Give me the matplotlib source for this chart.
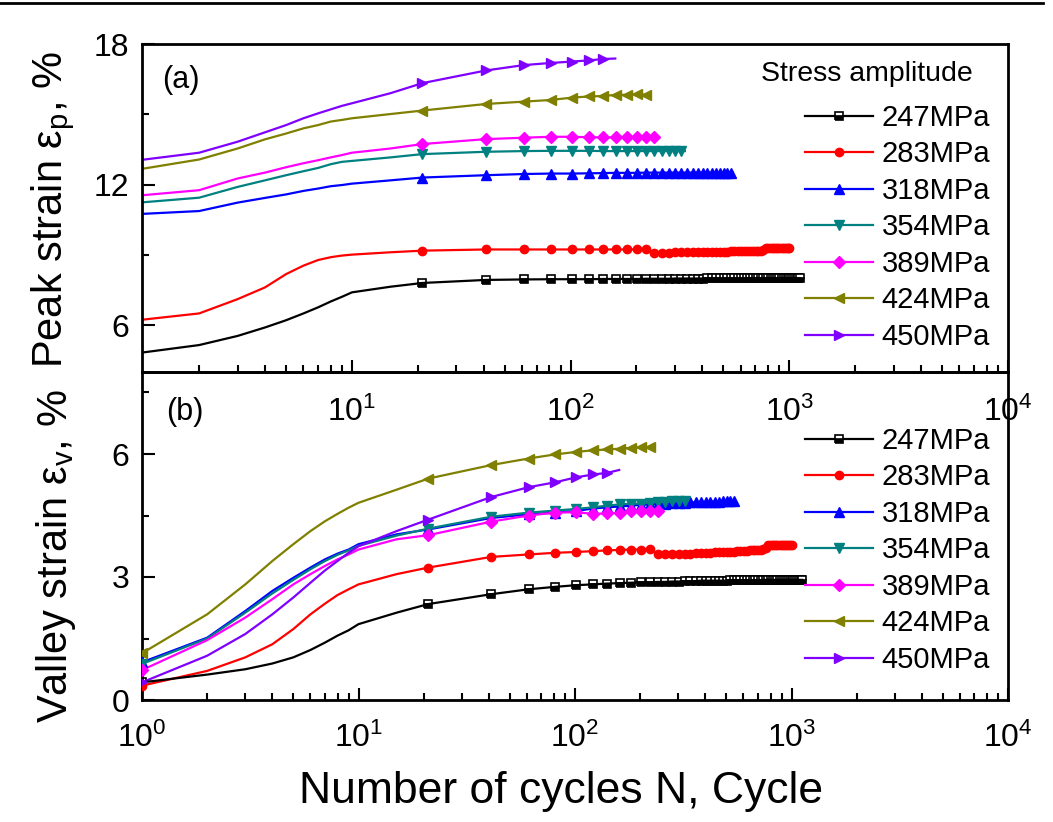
import matplotlib
matplotlib.use('Agg')
import matplotlib.pyplot as plt
from matplotlib.lines import Line2D
from matplotlib.ticker import FixedLocator, NullFormatter

plt.rcParams['font.family'] = ['Liberation Sans', 'DejaVu Sans']
plt.rcParams['mathtext.fontset'] = 'custom'
plt.rcParams['mathtext.rm'] = 'Liberation Sans'
plt.rcParams['mathtext.it'] = 'Liberation Sans:italic'
plt.rcParams['mathtext.bf'] = 'Liberation Sans:bold'

# ---------------- data ----------------
labels = ['247MPa', '283MPa', '318MPa', '354MPa', '389MPa', '424MPa', '450MPa']
colors = ['#000000', '#FF0000', '#0000FF', '#008080', '#FF00FF', '#808000', '#8000FF']
markers = ['s', 'o', '^', 'v', 'D', '<', '>']

# sampled cycle numbers: early cycles, then every 20th cycle (marker points), then last cycle
head_N = [1, 2, 3, 4, 5, 6, 7, 8, 9, 10, 15]
last_marker_N = [1121, 1001, 541, 321, 241, 221, 141]
end_N = [None, None, 552, 333, 250, 230, 160]

# Peak strain (%) (panel a)
peak_247 = [4.78, 5.15, 5.54, 5.90, 6.21, 6.50, 6.76, 7.01, 7.21, 7.40, 7.64,
            7.80, 7.93, 7.95, 7.96, 7.96, 7.96, 7.97, 7.97, 7.97, 7.97,
            7.98, 7.98, 7.98, 7.98, 7.99, 7.99, 7.99, 7.99, 7.99, 7.99,
            8.00, 8.00, 8.00, 8.00, 8.00, 8.00, 8.00, 8.00, 8.00, 8.00,
            8.00, 8.00, 8.00, 8.00, 8.00, 8.00, 8.00, 8.00, 8.00, 8.00,
            8.00, 8.00, 8.00, 8.00, 8.00, 8.00, 8.00, 8.00, 8.00, 8.00,
            8.00, 8.00, 8.00, 8.00, 8.00, 8.00]
peak_283 = [6.19, 6.50, 7.11, 7.61, 8.18, 8.54, 8.78, 8.90, 8.97, 9.01, 9.11,
            9.18, 9.23, 9.23, 9.23, 9.23, 9.23, 9.23, 9.23, 9.23, 9.23, 9.23,
            9.10, 9.10, 9.10, 9.11, 9.11, 9.11, 9.12, 9.12, 9.12, 9.13,
            9.13, 9.13, 9.14, 9.14, 9.14, 9.15, 9.15, 9.15, 9.15, 9.16,
            9.16, 9.16, 9.17, 9.17, 9.17, 9.18, 9.20,
            9.28, 9.30, 9.30, 9.30, 9.30, 9.30, 9.30, 9.30, 9.30, 9.30, 9.30, 9.30]
peak_318 = [10.73, 10.87, 11.23, 11.43, 11.58, 11.73, 11.83, 11.93, 11.98, 12.04, 12.18,
            12.30, 12.40, 12.45, 12.47, 12.47, 12.48, 12.49, 12.50, 12.50, 12.50,
            12.51, 12.51, 12.51, 12.51, 12.51, 12.51, 12.51, 12.51, 12.51,
            12.51, 12.51, 12.51, 12.51, 12.51, 12.51, 12.51, 12.51, 12.51]
peak_354 = [11.21, 11.44, 11.90, 12.18, 12.40, 12.57, 12.71, 12.87, 12.97, 13.01, 13.16,
            13.30, 13.40, 13.43, 13.44, 13.44, 13.44, 13.43, 13.43, 13.43, 13.43,
            13.43, 13.43, 13.43, 13.43, 13.43, 13.43, 13.43]
peak_389 = [11.51, 11.76, 12.26, 12.51, 12.74, 12.91, 13.04, 13.16, 13.26, 13.36, 13.54,
            13.73, 13.94, 14.00, 14.04, 14.04, 14.02, 14.01, 14.01, 14.01, 14.01,
            14.01, 14.01, 14.01]
peak_424 = [12.61, 13.07, 13.54, 13.93, 14.18, 14.40, 14.54, 14.69, 14.76, 14.83, 15.01,
            15.16, 15.44, 15.54, 15.61, 15.71, 15.76, 15.78, 15.83, 15.83, 15.86, 15.83,
            15.84]
peak_450 = [13.01, 13.36, 13.83, 14.23, 14.54, 14.83, 15.04, 15.21, 15.36, 15.47, 15.90,
            16.33, 16.87, 17.10, 17.19, 17.25, 17.30, 17.36, 17.38]

# Valley strain (%) (panel b)
valley_247 = [0.43, 0.62, 0.75, 0.89, 1.04, 1.22, 1.40, 1.57, 1.70, 1.85, 2.13,
              2.34, 2.58, 2.70, 2.76, 2.80, 2.82, 2.84, 2.85, 2.86, 2.87,
              2.87, 2.88, 2.88, 2.89, 2.89, 2.90, 2.90, 2.90, 2.91, 2.91,
              2.91, 2.91, 2.91, 2.91, 2.91, 2.92, 2.92, 2.92, 2.92, 2.92,
              2.92, 2.92, 2.92, 2.92, 2.92, 2.92, 2.93, 2.93, 2.93, 2.93,
              2.93, 2.93, 2.93, 2.93, 2.93, 2.93, 2.93, 2.93, 2.93, 2.93,
              2.93, 2.93, 2.93, 2.93, 2.93, 2.93]
valley_283 = [0.35, 0.71, 1.04, 1.36, 1.73, 2.09, 2.35, 2.56, 2.70, 2.82, 3.07,
              3.23, 3.49, 3.55, 3.59, 3.61, 3.63, 3.65, 3.66, 3.67, 3.67, 3.68,
              3.55, 3.55, 3.56, 3.56, 3.57, 3.57, 3.58, 3.58, 3.59, 3.59,
              3.60, 3.60, 3.61, 3.61, 3.62, 3.62, 3.63, 3.63, 3.64, 3.64,
              3.65, 3.65, 3.66, 3.66, 3.67, 3.68, 3.70,
              3.77, 3.78, 3.78, 3.78, 3.78, 3.78, 3.78, 3.78, 3.78, 3.78, 3.78, 3.78]
valley_318 = [0.92, 1.52, 2.17, 2.66, 2.98, 3.23, 3.43, 3.57, 3.67, 3.80, 4.04,
              4.16, 4.44, 4.53, 4.57, 4.61, 4.67, 4.70, 4.72, 4.74, 4.76,
              4.77, 4.78, 4.79, 4.80, 4.80, 4.81, 4.82, 4.82, 4.83, 4.83,
              4.84, 4.84, 4.84, 4.85, 4.85, 4.85, 4.85, 4.85]
valley_354 = [0.88, 1.50, 2.13, 2.60, 2.93, 3.19, 3.39, 3.54, 3.65, 3.76, 4.01,
              4.18, 4.47, 4.57, 4.62, 4.66, 4.70, 4.74, 4.77, 4.79, 4.79,
              4.81, 4.83, 4.84, 4.85, 4.85, 4.86, 4.86]
valley_389 = [0.73, 1.46, 2.01, 2.46, 2.82, 3.07, 3.27, 3.43, 3.55, 3.67, 3.92,
              4.02, 4.35, 4.50, 4.57, 4.58, 4.54, 4.55, 4.57, 4.61, 4.62,
              4.62, 4.62, 4.63]
valley_424 = [1.14, 2.09, 2.82, 3.39, 3.80, 4.12, 4.36, 4.54, 4.69, 4.81, 5.13,
              5.40, 5.73, 5.89, 5.99, 6.05, 6.09, 6.11, 6.13, 6.15, 6.16, 6.16,
              6.17]
valley_450 = [0.43, 1.08, 1.61, 2.09, 2.50, 2.86, 3.16, 3.39, 3.59, 3.75, 4.12,
              4.40, 4.95, 5.19, 5.31, 5.43, 5.50, 5.54, 5.61]

peak = [peak_247, peak_283, peak_318, peak_354, peak_389, peak_424, peak_450]
valley = [valley_247, valley_283, valley_318, valley_354, valley_389, valley_424, valley_450]

peak_ticks = [6, 12, 18]
valley_ticks = [0, 3, 6]


def cycles(i):
    n = list(head_N) + list(range(21, last_marker_N[i] + 1, 20))
    if end_N[i] is not None:
        n.append(end_N[i])
    return n


# ---------------- figure ----------------
W, H = 1053, 822
fig = plt.figure(figsize=(W / 100, H / 100), dpi=100)

L, R = 142, 1008
ax_top = fig.add_axes([L / W, 1 - 372 / H, (R - L) / W, 328 / H])
ax_bot = fig.add_axes([L / W, 1 - 700 / H, (R - L) / W, 328 / H])
ax_bot.set_facecolor('none')
ax_top.set_zorder(3)
ax_top.set_facecolor('none')

ms_map = {'s': 6, 'o': 6, '^': 7, 'v': 7, 'D': 6.2, '<': 7, '>': 7}


def marker_kw(i):
    if markers[i] == 's':
        return dict(marker='s', ms=ms_map['s'], mfc=colors[i], mec=colors[i],
                    fillstyle='bottom', markerfacecoloralt='white', mew=1.2)
    return dict(marker=markers[i], ms=ms_map[markers[i]], mfc=colors[i], mec=colors[i])


def draw(ax, data):
    for i, vals in enumerate(data):
        n = cycles(i)
        assert len(n) == len(vals), (i, len(n), len(vals))
        mi = [k for k, c in enumerate(n) if (c - 1) % 20 == 0]
        mn = [n[k] for k in mi]
        mv = [vals[k] for k in mi]
        if markers[i] == 's':
            ax.plot(mn, mv, ls='none', zorder=2, **marker_kw(i))
            ax.plot(n, vals, color=colors[i], lw=1.6, zorder=3)
        else:
            ax.plot(n, vals, color=colors[i], lw=1.6, zorder=2)
            ax.plot(mn, mv, ls='none', zorder=3, **marker_kw(i))


draw(ax_top, peak)
draw(ax_bot, valley)

for ax in (ax_top, ax_bot):
    ax.set_xscale('log')
    for s in ax.spines.values():
        s.set_linewidth(2.0)
    ax.tick_params(which='both', direction='in', top=False, right=False, width=1.5)
    ax.tick_params(which='major', length=9, labelsize=23)
    ax.tick_params(which='minor', length=5)
    ax.tick_params(axis='y', which='major', pad=9)

ax_top.tick_params(axis='x', which='major', pad=18)
ax_bot.tick_params(axis='x', which='major', pad=16)

ax_top.set_xlim(1.096, 1e4)
ax_bot.set_xlim(1, 1e4)

ax_top.set_ylim(4, 18)
ax_top.set_yticks(peak_ticks)
ax_top.yaxis.set_minor_locator(FixedLocator([9, 15]))
ax_bot.set_ylim(0, 8)
ax_bot.set_yticks(valley_ticks)
ax_bot.yaxis.set_minor_locator(FixedLocator([1.5, 4.5, 7.5]))
ax_top.yaxis.set_minor_formatter(NullFormatter())
ax_bot.yaxis.set_minor_formatter(NullFormatter())

# panel labels
fig.text(162 / W, 1 - 88 / H, '(a)', fontsize=22, ha='left', va='baseline')
fig.text(166 / W, 1 - 420 / H, '(b)', fontsize=22, ha='left', va='baseline')

# axis labels
fig.text(62 / W, 1 - 210 / H, 'Peak strain ε$_\\mathregular{p}$, %', fontsize=30,
         rotation=90, ha='center', va='baseline', rotation_mode='anchor')
fig.text(67 / W, 1 - 556 / H, 'Valley strain ε$_\\mathregular{v}$, %', fontsize=30,
         rotation=90, ha='center', va='baseline', rotation_mode='anchor')
fig.text(561 / W, 1 - 803 / H, 'Number of cycles N, Cycle', fontsize=32,
         ha='center', va='baseline')

# legend title
fig.text(973 / W, 1 - 81 / H, 'Stress amplitude', fontsize=20.5, ha='right', va='baseline')


def handles():
    return [Line2D([], [], color=colors[i], lw=1.6, **marker_kw(i)) for i in range(len(labels))]


leg_kw = dict(loc='upper left', bbox_transform=fig.transFigure, frameon=False,
              fontsize=21, handlelength=2.33, handletextpad=0.3, labelspacing=0.29,
              borderpad=0, borderaxespad=0, numpoints=1)
ax_top.legend(handles(), labels, bbox_to_anchor=(805 / W, 1 - 104 / H), **leg_kw)
ax_bot.legend(handles(), labels, bbox_to_anchor=(805 / W, 1 - 427 / H), **leg_kw)

# page rule at the top
fig.add_artist(Line2D([0, 1043 / W], [1 - 3 / H, 1 - 3 / H], color='black', lw=2,
                      transform=fig.transFigure))

fig.savefig('out.png', dpi=100)
